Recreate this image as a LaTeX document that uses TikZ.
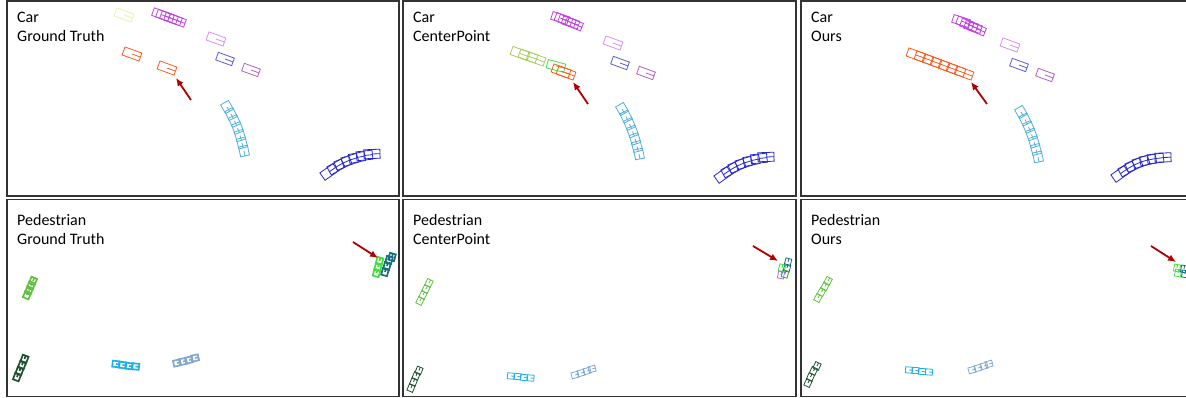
\documentclass[tikz,border=0pt]{standalone}
\usepackage{fontspec}
\setmainfont{Carlito}
\usetikzlibrary{arrows.meta, positioning}

\definecolor{cYel}{HTML}{EEEEB0}
\definecolor{cMag}{HTML}{C040E0}
\definecolor{cLil}{HTML}{D890F0}
\definecolor{cOra}{HTML}{FF5A1E}
\definecolor{cBlu}{HTML}{5A5AE0}
\definecolor{cPur}{HTML}{B060C8}
\definecolor{cCya}{HTML}{50B0D8}
\definecolor{cNav}{HTML}{2828D0}
\definecolor{cOli}{HTML}{A8CC60}
\definecolor{cGrn}{HTML}{40E040}
\definecolor{cArr}{HTML}{B00000}
\definecolor{pLgr}{HTML}{60C040}
\definecolor{pDgr}{HTML}{1F5233}
\definecolor{pCya}{HTML}{20B0E8}
\definecolor{pGry}{HTML}{80A8D0}
\definecolor{pTea}{HTML}{1A6E80}
\definecolor{pGrn}{HTML}{40E040}
\definecolor{pDgn}{HTML}{30A030}
\definecolor{pVio}{HTML}{A070F0}

\newcommand{\trackbox}[6]{\draw[#1,shift={(#2,#3)},rotate=#4] (-#5/2,-#6/2) rectangle (#5/2,#6/2) (0,0) -- (#5/2,0);}

\begin{document}
\begin{tikzpicture}[x=1pt,y=-1pt,
    panel/.style={draw=black!80, line width=1.4pt},
    lbl/.style={font=\fontsize{16}{19}\selectfont, align=left, anchor=north west, inner sep=0pt},
    hint/.style={draw=cArr, line width=1.8pt, -{Latex[length=8pt,width=7pt]}},
    carbox/.style={line width=0.8pt},
    pedbox/.style={line width=0.8pt},
    pedgt/.style={line width=1.7pt}]
\useasboundingbox (0,0) rectangle (1186,398);

\draw[panel] (7,1) rectangle (399,196);
\draw[panel] (403,1) rectangle (796,196);
\draw[panel] (801,1) rectangle (1192,196);
\draw[panel] (7,199.5) rectangle (399,396.5);
\draw[panel] (403,199.5) rectangle (796,396.5);
\draw[panel] (801,199.5) rectangle (1192,396.5);

\node[lbl] (lbl1) at (17,11.5) {Car\\Ground Truth};
\node[lbl] (lbl2) at (413,11.5) {Car\\CenterPoint};
\node[lbl] (lbl3) at (811,11.5) {Car\\Ours};
\node[lbl] (lbl4) at (17,213.8) {Pedestrian\\Ground Truth};
\node[lbl] (lbl5) at (413,213.8) {Pedestrian\\CenterPoint};
\node[lbl] (lbl6) at (811,213.8) {Pedestrian\\Ours};

\trackbox{carbox,cYel}{124}{15}{-20}{18}{8.5}
\foreach \x/\y in {161/14.5,165/16,169/17.5,173/19,177/20.5}
    \trackbox{carbox,cMag}{\x}{\y}{-20}{17}{8};
\trackbox{carbox,cLil}{216}{39}{-20}{18}{8.5}
\trackbox{carbox,cOra}{132}{54}{-20}{18}{8.5}
\trackbox{carbox,cOra}{167}{68}{-20}{18}{8.5}
\trackbox{carbox,cBlu}{225}{59}{-20}{17}{8}
\trackbox{carbox,cPur}{251}{70}{-20}{17}{8}
\foreach \x/\y/\a in {227/107/-60,231/114/-63,234.5/121/-66,237.5/128/-69,240/135.5/-72,242/143/-75,244/151/-78}
    \trackbox{carbox,cCya}{\x}{\y}{\a}{10}{9};
\foreach \x/\y/\a in {329/172/35,336/167/29,343/163/23,350/160/17,357/157.5/11,364.5/155.5/6,372/154/2}
    \trackbox{carbox,cNav}{\x}{\y}{\a}{16}{9};

\foreach \x/\y/\a in {560/18/-18,563.5/19.5/-22,567/21/-20,570.5/22.5/-18,574/24/-22}
    \trackbox{carbox,cMag}{\x}{\y}{\a}{17}{8};
\trackbox{carbox,cLil}{613}{43}{-20}{18}{8.5}
\foreach \x/\y in {520/53.5,528/56,536/59}
    \trackbox{carbox,cOli}{\x}{\y}{-20}{18}{8.5};
\trackbox{carbox,cGrn}{556}{66}{-15}{18}{8.5}
\foreach \x/\y in {561/71,566/73}
    \trackbox{carbox,cOra}{\x}{\y}{-20}{18}{8.5};
\trackbox{carbox,cBlu}{620}{63}{-20}{17}{8}
\trackbox{carbox,cPur}{646}{73}{-20}{17}{8}
\foreach \x/\y/\a in {622/109/-60,626/116.5/-63,629.5/124/-66,632.5/131.5/-69,635/139/-72,637/146.5/-75,639/154/-78}
    \trackbox{carbox,cCya}{\x}{\y}{\a}{10}{9};
\foreach \x/\y/\a in {723/175/35,730/170/29,737/166/23,744/163/17,751.5/160.5/11,759/158.5/6,766/157/2}
    \trackbox{carbox,cNav}{\x}{\y}{\a}{16}{9};

\foreach \x/\y/\a in {961/21/-18,965/23/-22,969/25/-20,973/27/-18,977/29/-22}
    \trackbox{carbox,cMag}{\x}{\y}{\a}{17}{8};
\trackbox{carbox,cLil}{1010}{45}{-20}{18}{8.5}
\foreach \x/\y in {916/55,924/58,932/61,940/64,948/67,956/70,964/73}
    \trackbox{carbox,cOra}{\x}{\y}{-20}{18}{8.5};
\trackbox{carbox,cBlu}{1019}{65}{-20}{17}{8}
\trackbox{carbox,cPur}{1045}{75}{-20}{17}{8}
\foreach \x/\y/\a in {1021/112/-60,1025/119.5/-63,1028.5/127/-66,1031.5/134.5/-69,1034/142/-72,1036/149.5/-75,1038/157/-78}
    \trackbox{carbox,cCya}{\x}{\y}{\a}{10}{9};
\foreach \x/\y/\a in {1120/174/35,1127/169/29,1134/165/23,1141/162/17,1148/160/11,1155.5/158.5/6,1163/157.5/2}
    \trackbox{carbox,cNav}{\x}{\y}{\a}{16}{9};

\foreach \x/\y in {27/295,29/290.5,31/285.5,33/281}
    \trackbox{pedgt,pLgr}{\x}{\y}{68}{7}{6};
\foreach \x/\y in {17/377,19.5/371,22/365,24.5/359}
    \trackbox{pedgt,pDgr}{\x}{\y}{70}{7}{6};
\foreach \x/\y in {116/364,122.5/365,129/366,135.5/366.5}
    \trackbox{pedgt,pCya}{\x}{\y}{-6}{7}{6};
\foreach \x/\y in {177/363,183/361.5,189/360,195/358}
    \trackbox{pedgt,pGry}{\x}{\y}{12}{7}{6};
\foreach \x/\y in {376.5/273,378/267,379.5/261}
    \trackbox{pedgt,pGrn}{\x}{\y}{75}{7}{6};
\foreach \x/\y in {385/272,387/266,389/260,392/257}
    \trackbox{pedgt,pTea}{\x}{\y}{75}{7}{6};

\foreach \x/\y in {420/301,423/295,426/289,429/283}
    \trackbox{pedbox,pLgr}{\x}{\y}{63}{7}{6};
\foreach \x/\y in {411/388,413.5/382,416/376,419/370.5}
    \trackbox{pedbox,pDgr}{\x}{\y}{68}{7}{6};
\foreach \x/\y in {511/376,517.5/376.5,524/377.5,530.5/378}
    \trackbox{pedbox,pCya}{\x}{\y}{-5}{7}{6};
\foreach \x/\y in {575/375,581/373,587/371,592/369}
    \trackbox{pedbox,pGry}{\x}{\y}{15}{7}{6};
\foreach \x/\y in {788/262,787/268}
    \trackbox{pedbox,pTea}{\x}{\y}{75}{7}{6};
\trackbox{pedbox,pGrn}{782}{268}{75}{7}{6}
\trackbox{pedbox,pDgn}{785}{274}{75}{7}{6}
\trackbox{pedbox,pVio}{781}{275}{80}{7}{6}

\foreach \x/\y in {818/298,821.5/292,825/286.5,828/281}
    \trackbox{pedbox,pLgr}{\x}{\y}{62}{7}{6};
\foreach \x/\y in {808/383,810.5/377,813.5/371,817/366}
    \trackbox{pedbox,pDgr}{\x}{\y}{65}{7}{6};
\foreach \x/\y in {909/370,915.5/370.5,922/371.5,929/372}
    \trackbox{pedbox,pCya}{\x}{\y}{-4}{7}{6};
\foreach \x/\y in {972/370,978/368,984/366,989/364}
    \trackbox{pedbox,pGry}{\x}{\y}{15}{7}{6};
\foreach \x/\y in {1177/268,1178/273}
    \trackbox{pedbox,pGrn}{\x}{\y}{80}{7}{6};
\foreach \x/\y in {1184/269,1185/274}
    \trackbox{pedbox,pTea}{\x}{\y}{80}{7}{6};

\coordinate (t1) at (191,100); \coordinate (h1) at (176,78);
\coordinate (t2) at (588,104); \coordinate (h2) at (573,82);
\coordinate (t3) at (987,104); \coordinate (h3) at (971,82);
\coordinate (t4) at (353,242); \coordinate (h4) at (378,258);
\coordinate (t5) at (753,246); \coordinate (h5) at (778,261);
\coordinate (t6) at (1151,246); \coordinate (h6) at (1176,262);
\foreach \i in {1,...,6}
    \draw[hint] (t\i) -- (h\i);
\end{tikzpicture}
\end{document}
